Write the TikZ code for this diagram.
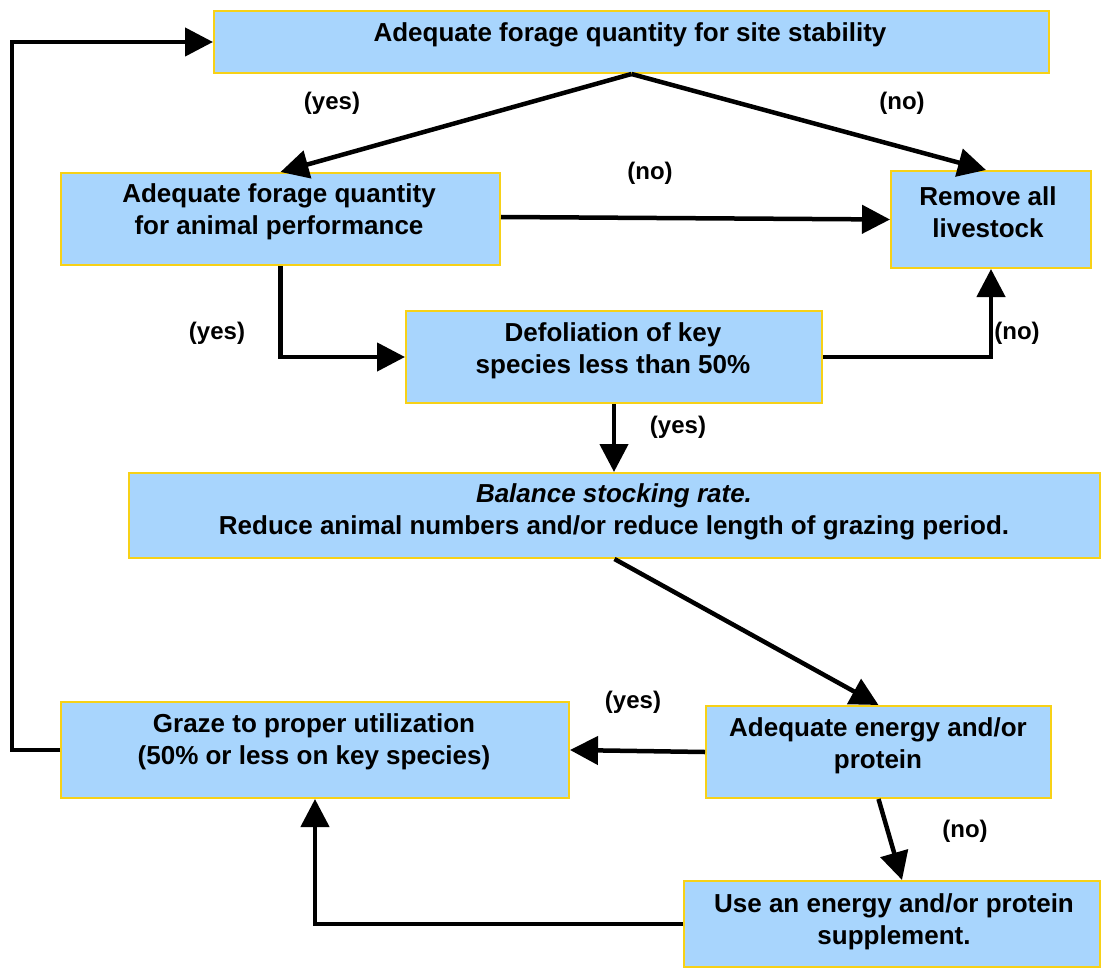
\documentclass[tikz,border=0pt]{standalone}
\usepackage{fontspec}
\setmainfont{Liberation Sans}
\usetikzlibrary{arrows.meta,calc}
\definecolor{boxfill}{HTML}{A8D5FD}
\definecolor{boxline}{HTML}{F7D117}
\tikzset{
  box/.style={draw=boxline, fill=boxfill, line width=2pt, inner sep=0pt, anchor=north west, rectangle},
  txt/.style={align=center, font=\fontsize{26}{32}\selectfont\bfseries, inner sep=0pt},
  lbl/.style={font=\fontsize{24}{26}\selectfont\bfseries, inner sep=0pt},
  arr/.style={line width=4.5pt, -{Triangle[length=28pt,width=28pt]}}
}
\begin{document}
\begin{tikzpicture}[x=1pt,y=-1pt]
\useasboundingbox (0,0) rectangle (1107,968);
% boxes
\node[box, minimum width=835pt, minimum height=62pt] (top) at (213,10) {};
\node[box, minimum width=439pt, minimum height=92pt] (anim) at (60,172) {};
\node[box, minimum width=200pt, minimum height=97pt] (remove) at (890,170) {};
\node[box, minimum width=416pt, minimum height=92pt] (defol) at (405,310) {};
\node[box, minimum width=971pt, minimum height=85pt] (bal) at (128,472) {};
\node[box, minimum width=508pt, minimum height=96pt] (graze) at (60,701) {};
\node[box, minimum width=345pt, minimum height=92pt] (energy) at (705,705) {};
\node[box, minimum width=416pt, minimum height=86pt] (supp) at (683,880) {};
% texts
\node[txt] (topT) at (630,35) {Adequate forage quantity for site stability};
\node[txt] (animT) at (279,212) {Adequate forage quantity\\for animal performance};
\node[txt] (removeT) at (988,212) {Remove all\\livestock};
\node[txt] (defolT) at (613,351) {Defoliation of key\\species less than 50\%};
\node[txt] (balT) at (614,512) {\itshape Balance stocking rate.\\Reduce animal numbers and/or reduce length of grazing period.};
\node[txt] (grazeT) at (314,742) {Graze to proper utilization\\(50\% or less on key species)};
\node[txt] (energyT) at (878,746) {Adequate energy and/or\\protein};
\node[txt] (suppT) at (894,922) {Use an energy and/or protein\\supplement.};
% labels
\node[lbl] (l1) at (332,103) {(yes)};
\node[lbl] (l2) at (902,103) {(no)};
\node[lbl] (l3) at (650,173) {(no)};
\node[lbl] (l4) at (217,333) {(yes)};
\node[lbl] (l5) at (1017,333) {(no)};
\node[lbl] (l6) at (678,427) {(yes)};
\node[lbl] (l7) at (633,702) {(yes)};
\node[lbl] (l8) at (965,831) {(no)};
% connectors
\draw[arr] (top.south) -- (anim.north);
\draw[arr] (top.south) -- ($(remove.north)+(-5,0)$);
\draw[arr] ($(anim.east)+(0,-2)$) -- (remove.west);
\draw[arr] (anim.south) |- (defol.west);
\draw[arr] (defol.east) -| (remove.south);
\draw[arr] (defol.south) -- (defol.south |- bal.north);
\draw[arr] (bal.south) -- (energy.north);
\draw[arr] (energy.west) -- (graze.east);
\draw[arr] (energy.south) -- ($(supp.north)+(10,0)$);
\draw[arr] (supp.west) -| (graze.south);
\draw[arr] (graze.west) -- ++(-48,0) |- (top.west);
\end{tikzpicture}
\end{document}
